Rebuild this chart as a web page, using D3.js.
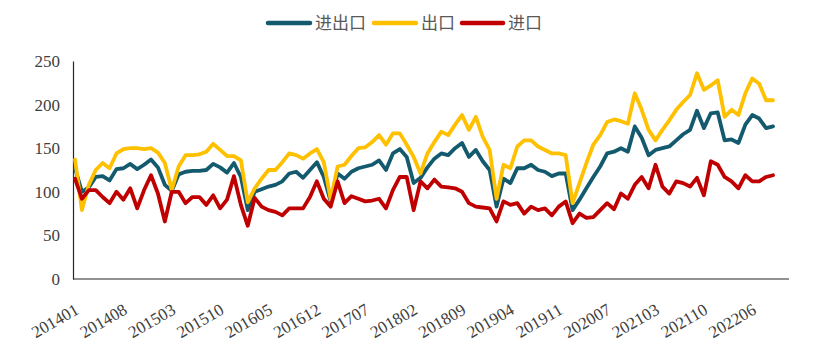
<!DOCTYPE html>
<html><head><meta charset="utf-8">
<script src="https://cdn.jsdelivr.net/npm/d3@7"></script>
<style>body{margin:0;background:#fff}svg{display:block}</style>
</head><body>
<svg id="chart" width="819" height="359"></svg>
<script>
const categories = [
"201401","201402","201403","201404","201405","201406","201407","201408","201409","201410","201411","201412",
"201501","201502","201503","201504","201505","201506","201507","201508","201509","201510","201511","201512",
"201601","201602","201603","201604","201605","201606","201607","201608","201609","201610","201611","201612",
"201701","201702","201703","201704","201705","201706","201707","201708","201709","201710","201711","201712",
"201801","201802","201803","201804","201805","201806","201807","201808","201809","201810","201811","201812",
"201901","201902","201903","201904","201905","201906","201907","201908","201909","201910","201911","201912",
"202002","202003","202004","202005","202006","202007","202008","202009","202010","202011","202012",
"202102","202103","202104","202105","202106","202107","202108","202109","202110","202111","202112",
"202202","202203","202204","202205","202206","202207","202208","202209"];
const tickLabels = ["201401","201408","201503","201510","201605","201612","201707","201802","201809","201904","201911","202007","202103","202110","202206"];
const yTicks = [0,50,100,150,200,250];
const seriesNames = ["进出口","出口","进口"];
const totalTrade = [127,100,105,117,118,113,126,127,132,126,131,137,
128,108,101,120,123,124,124,125,132,128,122,133,
117,79,100,103,106,108,112,121,123,116,125,134,
117,89,121,115,123,127,129,131,136,125,144,149,
140,110,116,128,138,144,142,150,156,140,148,135,
125,83,115,110,127,127,131,125,123,118,121,121,
79,91,104,117,129,144,146,150,146,175,162,
142,148,150,152,159,166,171,193,173,190,191,
159,160,156,177,188,184,173,175];
const exportsV = [137,79,108,125,133,127,144,149,150,150,149,150,
145,133,102,129,142,142,143,146,155,148,141,141,
136,88,104,115,125,125,134,144,142,138,144,149,
134,91,129,131,141,150,151,157,165,154,167,167,
154,140,121,144,157,169,165,177,188,171,186,163,
148,92,131,127,152,159,159,152,148,144,144,142,
87,110,133,154,165,180,183,181,178,213,194,
171,159,171,182,194,203,211,236,217,222,228,
186,194,188,213,230,224,205,205];
const importsV = [115,92,102,102,94,87,100,91,104,81,102,119,
98,66,100,100,87,94,94,85,96,81,91,118,
85,61,93,83,79,77,73,81,81,81,94,112,
92,83,112,87,95,92,89,90,92,81,102,117,
117,79,112,104,114,106,105,104,100,87,83,82,
81,66,89,85,87,75,83,79,81,73,83,89,
64,75,70,71,79,87,80,98,92,108,117,
104,131,106,98,112,110,106,116,96,135,131,
117,112,104,119,112,112,117,119];
const colors = ["#145A6E","#FFC000","#C00000"];

const svg = d3.select("#chart");
const x = d3.scalePoint().domain(categories).range([75, 773]);
const y = d3.scaleLinear().domain([0, 250]).range([279, 61]);

// axes
const yAxis = svg.append("g").attr("transform","translate(73,0)")
  .call(d3.axisLeft(y).tickValues(yTicks).tickSize(0).tickPadding(13));
yAxis.select(".domain").attr("stroke","#262626").attr("stroke-width",1.2);
yAxis.selectAll("text").attr("font-family","'Liberation Serif',serif").attr("font-size",17).attr("fill","#404040");

svg.append("line").attr("x1",73).attr("x2",789).attr("y1",y(0)).attr("y2",y(0))
  .attr("stroke","#262626").attr("stroke-width",1.2);

svg.append("g").selectAll("text").data(tickLabels).join("text")
  .attr("transform", d => `translate(${x(d)+5},${y(0)+34}) rotate(-30)`)
  .attr("text-anchor","end")
  .attr("font-family","'Liberation Serif',serif").attr("font-size",17).attr("fill","#404040")
  .text(d => d);

const line = d3.line().x((d,i) => x(categories[i])).y(d => y(d));
[totalTrade, exportsV, importsV].forEach((s, k) => {
  svg.append("path").datum(s).attr("d", line).attr("fill","none")
    .attr("stroke", colors[k]).attr("stroke-width", 3.8)
    .attr("stroke-linejoin","round").attr("stroke-linecap","round");
});

// legend
const legendItems = [
  {name: seriesNames[0], color: colors[0], x1: 268, x2: 310, tx: 315},
  {name: seriesNames[1], color: colors[1], x1: 374, x2: 416, tx: 421},
  {name: seriesNames[2], color: colors[2], x1: 462, x2: 503, tx: 508}
];
const lg = svg.append("g");
legendItems.forEach(it => {
  lg.append("line").attr("x1",it.x1).attr("x2",it.x2).attr("y1",23).attr("y2",23)
    .attr("stroke",it.color).attr("stroke-width",4.5).attr("stroke-linecap","round");
  lg.append("text").attr("x",it.tx).attr("y",29)
    .attr("font-family","'Noto Sans CJK SC',sans-serif").attr("font-size",17).attr("fill","#595959")
    .text(it.name);
});
</script>
</body></html>
